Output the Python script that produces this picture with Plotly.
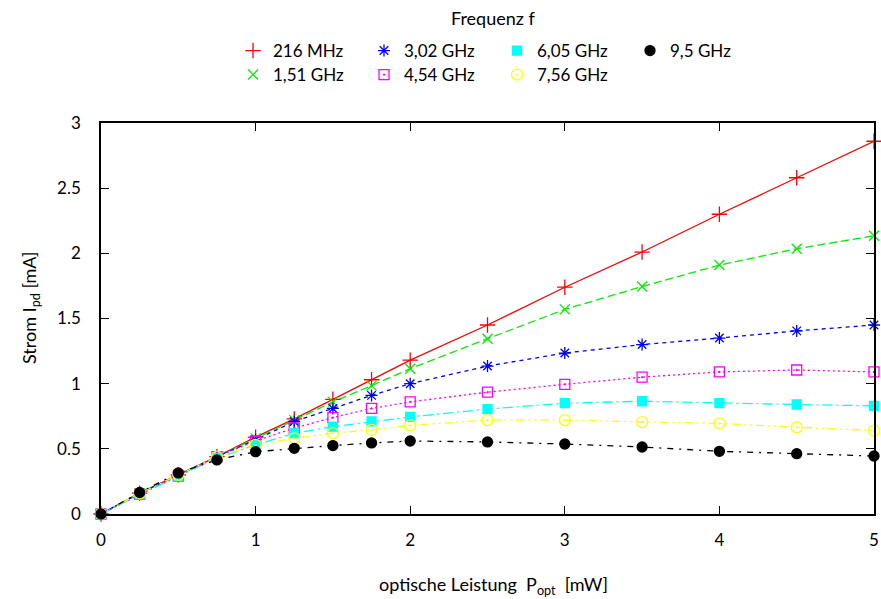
import plotly.graph_objects as go

P = [0, 0.25, 0.5, 0.75, 1, 1.25, 1.5, 1.75, 2, 2.5, 3, 3.5, 4, 4.5, 5]

labels = ["216 MHz", "1,51 GHz", "3,02 GHz", "4,54 GHz", "6,05 GHz", "7,56 GHz", "9,5 GHz"]

I_216 = [0, 0.16, 0.30, 0.44, 0.59, 0.73, 0.88, 1.03, 1.18, 1.45, 1.74, 2.01, 2.30, 2.58, 2.86]
I_151 = [0, 0.16, 0.30, 0.44, 0.58, 0.72, 0.86, 0.985, 1.115, 1.345, 1.57, 1.745, 1.91, 2.035, 2.135]
I_302 = [0, 0.16, 0.30, 0.44, 0.57, 0.71, 0.81, 0.91, 1.00, 1.135, 1.235, 1.30, 1.35, 1.405, 1.45]
I_454 = [0, 0.15, 0.29, 0.44, 0.56, 0.66, 0.74, 0.81, 0.86, 0.935, 0.995, 1.05, 1.09, 1.105, 1.09]
I_605 = [0, 0.15, 0.29, 0.43, 0.53, 0.62, 0.67, 0.71, 0.745, 0.805, 0.85, 0.865, 0.85, 0.84, 0.83]
I_756 = [0, 0.16, 0.30, 0.44, 0.53, 0.58, 0.62, 0.645, 0.68, 0.72, 0.72, 0.705, 0.695, 0.665, 0.64]
I_95 = [0, 0.165, 0.315, 0.415, 0.478, 0.504, 0.525, 0.545, 0.56, 0.553, 0.537, 0.514, 0.481, 0.463, 0.445]

series = [I_216, I_151, I_302, I_454, I_605, I_756, I_95]
colors = ["#ff0000", "#00ee00", "#0000ff", "#ff00ff", "#00ffff", "#ffff00", "#000000"]
symbols = ["cross-thin-open", "x-thin-open", "asterisk-open", "square-open-dot",
           "square", "circle-open-dot", "circle"]
sizes = [11, 10, 10, 10, 9, 11, 10]
dashes = ["solid", "8px,4px", "4px,4px", "2px,3px", "10px,4px,2px,4px",
          "8px,4px,2px,4px,2px,4px", "6px,6px,2px,6px"]

# legend grid: 4 columns, filled column by column (left edge px, row centre px)
leg_cols = [233, 364, 497, 630]
leg_rows = [51, 75]

FONT = "Lato"
W, H = 881, 599
ML, MR, MT, MB = 101, 7, 123, 85
PW, PH = W - ML - MR, H - MT - MB


def px_x(px):
    return (px - ML) / PW


def px_y(py):
    return 1 - (py - MT) / PH


fig = go.Figure()

# lines
for y, c, d in zip(series, colors, dashes):
    fig.add_trace(go.Scatter(x=P, y=y, mode="lines", line=dict(color=c, width=1.3, dash=d),
                             showlegend=False, hoverinfo="skip", cliponaxis=False))

legends = {}
for i, (y, c, s, sz, lab) in enumerate(zip(series, colors, symbols, sizes, labels)):
    lg = "legend" if i == 0 else f"legend{i + 1}"
    fig.add_trace(go.Scatter(x=P, y=y, mode="markers", name=lab, legend=lg,
                             marker=dict(symbol=s, color=c, size=sz,
                                         line=dict(color=c, width=1.3)),
                             cliponaxis=False))
    col, row = divmod(i, 2)
    legends[lg] = dict(xref="container", yref="container",
                       x=leg_cols[col] / W, xanchor="left",
                       y=1 - leg_rows[row] / H, yanchor="middle",
                       itemwidth=30, borderwidth=0, bgcolor="rgba(0,0,0,0)",
                       font=dict(family=FONT, size=17, color="black"))

axis_common = dict(showline=True, linecolor="black", linewidth=1.5, mirror="allticks",
                   ticks="inside", ticklen=8, tickwidth=1.2, tickcolor="black",
                   showgrid=False, zeroline=False, automargin=False,
                   tickfont=dict(family=FONT, size=17, color="black"))

fig.update_layout(
    width=W, height=H,
    margin=dict(l=ML, r=MR, t=MT, b=MB, autoexpand=False),
    plot_bgcolor="white", paper_bgcolor="white",
    font=dict(family=FONT, size=17, color="black"),
    xaxis=dict(range=[0, 5], tickvals=[0, 1, 2, 3, 4, 5], ticklabelstandoff=10,
               **axis_common),
    yaxis=dict(range=[0, 3], tickvals=[0, 0.5, 1, 1.5, 2, 2.5, 3],
               ticktext=["0", "0.5", "1", "1.5", "2", "2.5", "3"], ticklabelstandoff=15,
               **axis_common),
    annotations=[
        dict(text="Frequenz f", xref="paper", yref="paper", x=px_x(493), y=px_y(18),
             xanchor="center", yanchor="middle", showarrow=False,
             font=dict(family=FONT, size=18)),
        dict(text="optische Leistung  P<sub>opt</sub>  [mW]", xref="paper", yref="paper",
             x=px_x(493), y=px_y(585), xanchor="center", yanchor="middle", showarrow=False,
             font=dict(family=FONT, size=18)),
        dict(text="Strom I<sub>pd</sub> [mA]", xref="paper", yref="paper", textangle=-90,
             x=px_x(30), y=px_y(308), xanchor="center", yanchor="middle", showarrow=False,
             font=dict(family=FONT, size=18)),
    ],
    **legends,
)

fig.write_html("out.html")
